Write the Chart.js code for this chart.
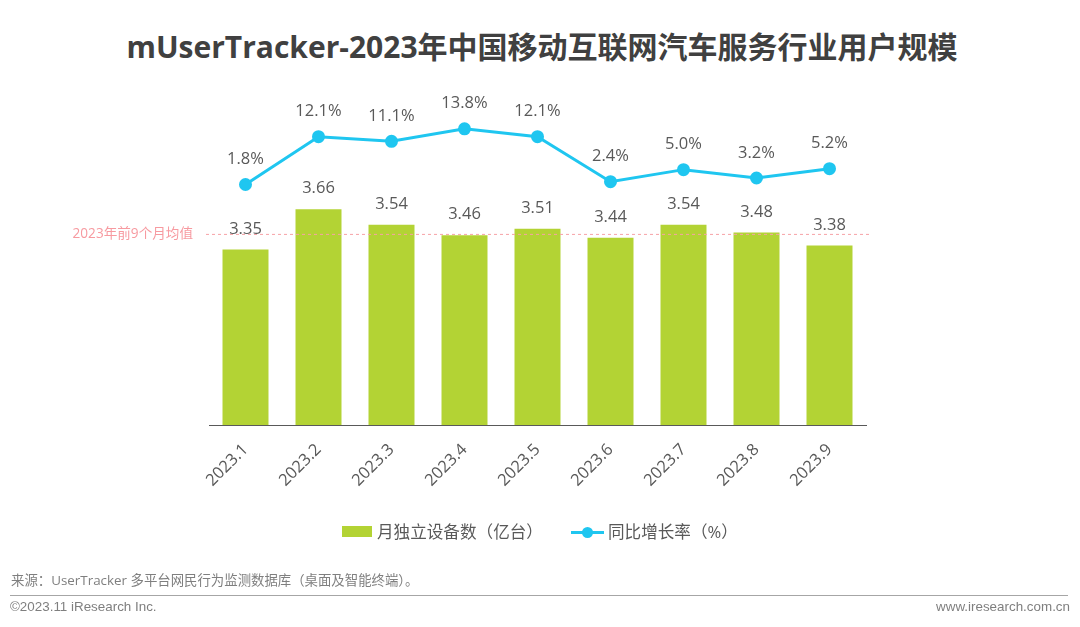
<!DOCTYPE html>
<html>
<head>
<meta charset="utf-8">
<script src="https://cdn.jsdelivr.net/npm/chart.js@4/dist/chart.umd.min.js"></script>
<style>
    body { margin: 0; background: #fff; width: 1080px; height: 627px; position: relative; overflow: hidden; font-family: "Open Sans", "Noto Sans CJK SC", sans-serif; }
    canvas { position: absolute; left: 0; top: 0; }
    .txt { position: absolute; white-space: nowrap; }
    #title { left: 0; width: 1084px; top: 26px; text-align: center; font-size: 30px; line-height: 42px; font-weight: bold; color: #404040; }
    .legend-text { top: 521px; font-size: 16.6px; line-height: 22px; color: #595959; }
    #legend-box { position: absolute; left: 342px; top: 526px; width: 30px; height: 11px; background: #b3d334; }
    #legend-line { position: absolute; left: 571px; top: 531px; width: 33px; height: 3px; background: #1fc6f0; }
    #legend-dot { position: absolute; left: 582px; top: 527px; width: 11px; height: 11px; border-radius: 50%; background: #1fc6f0; }
    #source { left: 11px; top: 571px; font-size: 13.4px; line-height: 18px; color: #7f7f7f; }
    #rule { position: absolute; left: 10px; top: 595px; width: 1058px; height: 1px; background: #a6a6a6; }
    .foot { top: 599px; font-family: "Liberation Sans", sans-serif; font-size: 13.4px; line-height: 16px; color: #7f7f7f; }
</style>
</head>
<body>
<div id="title" class="txt">mUserTracker-2023年中国移动互联网汽车服务行业用户规模</div>
<canvas id="mainChart" width="1080" height="627"></canvas>
<div id="legend-box"></div>
<div class="txt legend-text" style="left:377px">月独立设备数（亿台）</div>
<div id="legend-line"></div>
<div id="legend-dot"></div>
<div class="txt legend-text" style="left:608px">同比增长率（%）</div>
<div id="source" class="txt">来源：UserTracker 多平台网民行为监测数据库（桌面及智能终端）。</div>
<div id="rule"></div>
<div class="txt foot" style="left:10px">©2023.11 iResearch Inc.</div>
<div class="txt foot" style="right:10px">www.iresearch.com.cn</div>
<script>
const months = ['2023.1', '2023.2', '2023.3', '2023.4', '2023.5', '2023.6', '2023.7', '2023.8', '2023.9'];
const devices = [3.35, 3.66, 3.54, 3.46, 3.51, 3.44, 3.54, 3.48, 3.38];
const growth = [1.8, 12.1, 11.1, 13.8, 12.1, 2.4, 5.0, 3.2, 5.2];
const averageValue = 3.47;
const averageLabel = '2023年前9个月均值';

const labelFont = '16.5px "Open Sans", "Noto Sans CJK SC", sans-serif';

// Average line, and value labels above bars and points
const annotate = {
    id: 'annotate',
    afterDatasetsDraw(chart) {
        const ctx = chart.ctx;
        const y = chart.scales.y.getPixelForValue(averageValue);
        ctx.save();
        ctx.strokeStyle = '#f7a1a6';
        ctx.lineWidth = 1;
        ctx.setLineDash([3, 3]);
        ctx.beginPath();
        ctx.moveTo(206, y + 0.5);
        ctx.lineTo(870, y + 0.5);
        ctx.stroke();
        ctx.setLineDash([]);

        ctx.textBaseline = 'middle';
        ctx.textAlign = 'right';
        ctx.fillStyle = '#f79aa0';
        ctx.font = '13.6px "Open Sans", "Noto Sans CJK SC", sans-serif';
        ctx.fillText(averageLabel, 193, y);

        ctx.textAlign = 'center';
        ctx.fillStyle = '#595959';
        ctx.font = labelFont;
        chart.getDatasetMeta(1).data.forEach((bar, i) => {
            ctx.fillText(devices[i].toFixed(2), bar.x, bar.y - 20.5);
        });
        chart.getDatasetMeta(0).data.forEach((pt, i) => {
            ctx.fillText(growth[i].toFixed(1) + '%', pt.x, pt.y - 25);
        });
        ctx.restore();
    }
};

new Chart(document.getElementById('mainChart').getContext('2d'), {
    type: 'bar',
    data: {
        labels: months,
        datasets: [{
            type: 'line',
            label: '同比增长率（%）',
            data: growth,
            yAxisID: 'y1',
            borderColor: '#1fc6f0',
            backgroundColor: '#1fc6f0',
            borderWidth: 3,
            pointRadius: 5,
            pointHoverRadius: 5,
            tension: 0,
            order: 1
        }, {
            label: '月独立设备数（亿台）',
            data: devices,
            yAxisID: 'y',
            backgroundColor: '#b3d334',
            barPercentage: 0.63,
            categoryPercentage: 1,
            order: 2
        }]
    },
    options: {
        responsive: false,
        animation: false,
        layout: { padding: { left: 209, right: 214, top: 100, bottom: 0 } },
        plugins: { legend: { display: false }, tooltip: { enabled: false } },
        scales: {
            x: {
                grid: { display: false },
                border: { color: '#595959', width: 1 },
                ticks: { color: '#595959', font: { size: 16.5, family: '"Open Sans", sans-serif' }, minRotation: 45, maxRotation: 45, padding: 7 },
                afterFit(scale) { scale.height = 202; }
            },
            y: { display: false, min: 2, max: 4.5 },
            y1: { display: false, min: -50, max: 20 }
        }
    },
    plugins: [annotate]
});
</script>
</body>
</html>
